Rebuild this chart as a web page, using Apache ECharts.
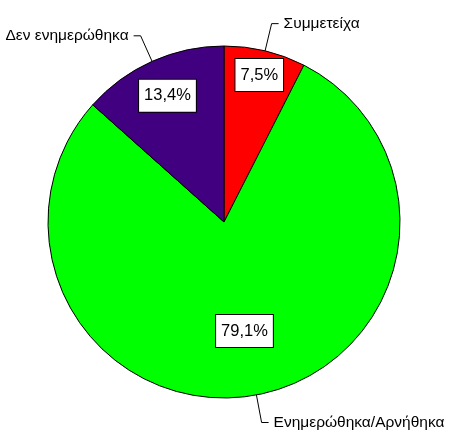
<!DOCTYPE html>
<html>
<head>
<meta charset="utf-8">
<script src="https://cdn.jsdelivr.net/npm/echarts@6/dist/echarts.min.js"></script>
<style>
html,body{margin:0;padding:0;background:#fff;}
#chart{width:450px;height:432px;}
</style>
</head>
<body>
<div id="chart"></div>
<script>
const categories = ['Συμμετείχα', 'Ενημερώθηκα/Αρνήθηκα', 'Δεν ενημερώθηκα'];
const values = [7.5, 79.1, 13.4];
const sliceColors = ['#FF0000', '#00FF00', '#400080'];
const labelRadiusFrac = [0.83, 0.61, 0.76];

const CX = 224, CY = 222, R = 176;
const FONT = '"Liberation Sans", Arial, sans-serif';

const chart = echarts.init(document.getElementById('chart'), null, {renderer: 'canvas'});

const dataItems = categories.map((c, i) => ({
  name: c,
  value: values[i],
  itemStyle: {color: sliceColors[i]}
}));

function fmtPct(v) {
  return v.toFixed(1).replace('.', ',') + '%';
}

chart.setOption({
  animation: false,
  backgroundColor: '#ffffff',
  series: [
    {
      type: 'pie',
      center: [CX, CY],
      radius: [0, R],
      startAngle: 90,
      clockwise: true,
      silent: true,
      itemStyle: {borderColor: '#000', borderWidth: 1},
      data: dataItems,
      label: {
        show: true,
        position: 'inside',
        formatter: p => fmtPct(p.value),
        fontFamily: FONT,
        fontSize: 16.5,
        color: '#000',
        backgroundColor: '#fff',
        borderColor: '#000',
        borderWidth: 1,
        padding: [8, 5, 7, 5]
      },
      labelLine: {show: false},
      labelLayout: function (p) {
        const r = p.labelRect;
        const lx = r.x + r.width / 2, ly = r.y + r.height / 2;
        const f = labelRadiusFrac[p.dataIndex] / 0.5;
        return {x: CX + (lx - CX) * f, y: CY + (ly - CY) * f, align: 'center', verticalAlign: 'middle'};
      }
    },
    {
      type: 'pie',
      center: [CX, CY],
      radius: [0, R],
      startAngle: 90,
      clockwise: true,
      silent: true,
      itemStyle: {color: 'rgba(0,0,0,0)', borderWidth: 0},
      data: categories.map((c, i) => ({name: c, value: values[i]})),
      label: {
        show: true,
        position: 'outside',
        formatter: '{b}',
        fontFamily: FONT,
        fontSize: 15.5,
        color: '#000',
        distanceToLabelLine: 5,
        overflow: 'none',
        bleedMargin: 0
      },
      labelLine: {
        show: true,
        length: 28,
        length2: 7,
        lineStyle: {color: '#000', width: 1}
      }
    }
  ]
});
</script>
</body>
</html>
